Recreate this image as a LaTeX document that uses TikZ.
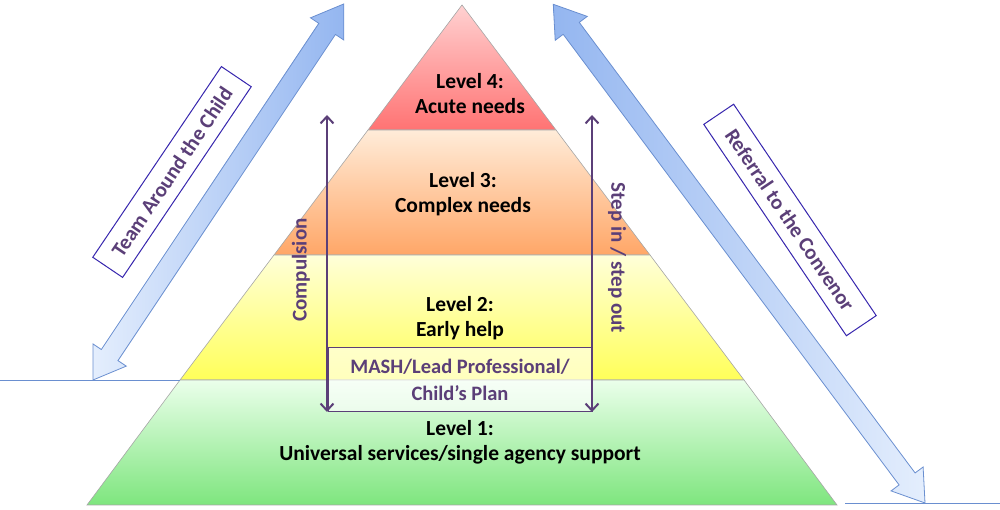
\documentclass[tikz,border=0pt]{standalone}
\usepackage{fontspec}
\setmainfont{Carlito}
\usetikzlibrary{arrows.meta,calc}
\definecolor{pur}{HTML}{5B3F78}
\definecolor{bluo}{HTML}{6A8FD0}
\definecolor{bl1}{HTML}{E4EEFD}
\definecolor{bl2}{HTML}{94B6F0}
\tikzset{
 lvl/.style={draw=gray!70,line width=0.6pt},
 lab/.style={font=\bfseries\fontsize{21.5}{25}\selectfont,align=center,text=black},
 plab/.style={font=\bfseries\fontsize{21}{25}\selectfont,text=pur},
 side/.style={draw=blue!40!pur,fill=white,line width=1pt,font=\bfseries\fontsize{21}{25}\selectfont,text=pur,minimum width=230pt,minimum height=36pt,inner sep=2pt},
 varr/.style={draw=pur,line width=2pt,{Straight Barb[length=7pt,width=13pt]}-{Straight Barb[length=7pt,width=13pt]}},
 fat/.style={draw=bluo,line width=0.8pt}
}
\newcommand{\fatarrow}[2]{%
 \path[fat,#2] (0,0) -- (30,20) -- (30,10) -- (#1-30,10) -- (#1-30,20) -- (#1,0) -- (#1-30,-20) -- (#1-30,-10) -- (30,-10) -- (30,-20) -- cycle;}
\begin{document}
\begin{tikzpicture}[x=1pt,y=1pt]
\useasboundingbox (0,0) rectangle (1000,510);
% pyramid levels
\path[lvl,top color=red!18!white,bottom color=red!55!white] (462,505) -- (556,380) -- (368,380) -- cycle;
\path[lvl,top color=orange!15!white,bottom color=orange!55!white!90!red] (368,380) -- (556,380) -- (650,255) -- (274,255) -- cycle;
\path[lvl,top color=yellow!15!white,bottom color=yellow!65!white] (274,255) -- (650,255) -- (744,130) -- (180,130) -- cycle;
\path[lvl,top color=green!8!white,bottom color=green!45!white!90!black] (180,130) -- (744,130) -- (837,5) -- (87,5) -- cycle;
% lines
\coordinate (l0) at (0,130); \coordinate (l1) at (180,130);
\coordinate (r0) at (845,7); \coordinate (r1) at (1000,7);
\draw[bluo,line width=0.8pt] (l0) -- (l1);
\draw[bluo,line width=0.8pt] (r0) -- (r1);
% fat arrows
\begin{scope}[shift={(93,130)},rotate=56.3]
\fatarrow{452}{left color=bl1,right color=bl2}
\end{scope}
\begin{scope}[shift={(925,7)},rotate=126.7]
\fatarrow{622}{left color=bl2,right color=bl1}
\end{scope}
% side boxes
\node[side,rotate=56] (tac) at (172,338) {Team Around the Child};
\node[side,rotate=-56,minimum width=255pt] (ref) at (790,290) {Referral to the Convenor};
% MASH box
\node[draw=pur,line width=1pt,fill=white,fill opacity=0.6,text opacity=1,minimum width=264pt,minimum height=64pt,inner sep=0pt,font=\bfseries\fontsize{20.5}{27}\selectfont,text=pur,align=center] (mash) at (460,130) {MASH/Lead Professional/\\Child’s Plan};
% vertical arrows
\coordinate (ct) at (327,395); \coordinate (cb) at (327,98);
\coordinate (st) at (592,395); \coordinate (sb) at (592,98);
\draw[varr] (cb) -- (ct);
\draw[varr] (sb) -- (st);
\node[plab,rotate=90] (comp) at (301,240) {Compulsion};
\node[plab,rotate=-90] (step) at (617,252) {Step in / step out};
% labels
\node[lab] (l4) at (470,416) {Level 4:\\Acute needs};
\node[lab] (l3) at (463,316) {Level 3:\\Complex needs};
\node[lab] (l2) at (460,192) {Level 2:\\Early help};
\node[lab] (l1) at (460,68) {Level 1:\\Universal services/single agency support};
\end{tikzpicture}
\end{document}
